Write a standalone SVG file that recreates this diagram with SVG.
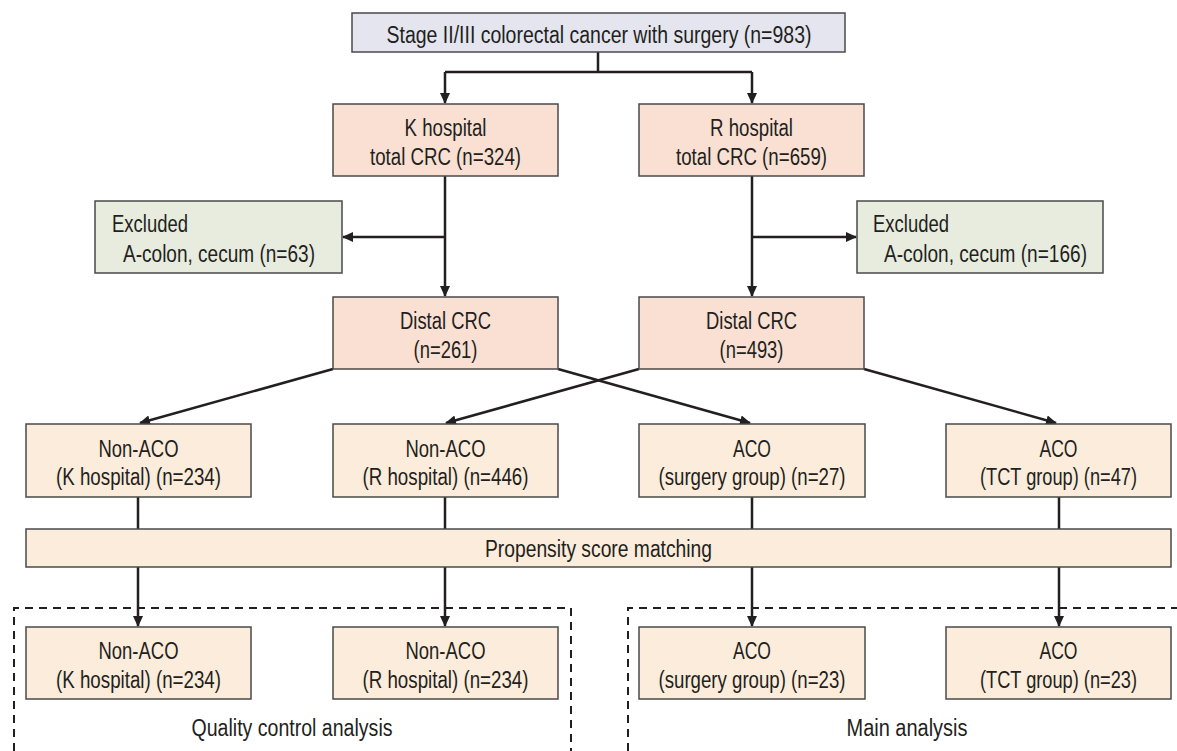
<svg xmlns="http://www.w3.org/2000/svg" width="1177" height="751" viewBox="0 0 1177 751">
<defs>
<style>
.box{stroke:#4a4a4a;stroke-width:1.5}
.top{fill:#e4e5ef}
.sal{fill:#f9e0d3}
.exc{fill:#e7ecdf}
.cre{fill:#fbecdb}
text{font-family:"Liberation Sans",Arial,sans-serif;font-size:23px;fill:#231f20}
.c{text-anchor:middle}
.ln{fill:none;stroke:#231f20;stroke-width:2.5}
.ar{marker-end:url(#ah)}
.dash{fill:none;stroke:#231f20;stroke-width:2;stroke-dasharray:8 6}
</style>
<marker id="ah" markerUnits="userSpaceOnUse" markerWidth="11" markerHeight="10" refX="10" refY="5" orient="auto" viewBox="0 0 11 10">
<path d="M0,0 L11,5 L0,10 z" fill="#231f20"/>
</marker>
</defs>
<rect width="1177" height="751" fill="#ffffff"/>

<g id="connectors">
<path class="ln" d="M598,52 V72 M445,72 H752"/>
<path class="ln ar" d="M445,72 V103"/>
<path class="ln ar" d="M752,72 V103"/>
<path class="ln ar" d="M445,176 V296"/>
<path class="ln ar" d="M445,237 H343"/>
<path class="ln ar" d="M752,176 V296"/>
<path class="ln ar" d="M752,237 H856"/>
<path class="ln ar" d="M333,369 L140,423"/>
<path class="ln ar" d="M558,369 L750,423"/>
<path class="ln ar" d="M639,369 L446,423"/>
<path class="ln ar" d="M864,369 L1056,423"/>
<path class="ln" d="M138,497 V529 M445,497 V529 M752,497 V529 M1059,497 V529"/>
<path class="ln ar" d="M138,567 V626"/>
<path class="ln ar" d="M445,567 V626"/>
<path class="ln ar" d="M752,567 V626"/>
<path class="ln ar" d="M1059,567 V626"/>
</g>

<g id="group-quality">
<path class="dash" d="M14,751 V608 H571 V751"/>
<text class="c" x="292" y="736" textLength="201" lengthAdjust="spacingAndGlyphs">Quality control analysis</text>
</g>
<g id="group-main">
<path class="dash" d="M628,751 V608 H1177"/>
<text class="c" x="907" y="736" textLength="121" lengthAdjust="spacingAndGlyphs">Main analysis</text>
</g>

<g id="n-start">
<rect class="box top" x="352" y="13" width="493" height="39"/>
<text class="c" x="599" y="43" textLength="425" lengthAdjust="spacingAndGlyphs">Stage II/III colorectal cancer with surgery (n=983)</text>
</g>

<g id="n-khosp">
<rect class="box sal" x="333" y="104" width="225" height="72"/>
<text class="c" x="445.5" y="136" textLength="82" lengthAdjust="spacingAndGlyphs">K hospital</text>
<text class="c" x="445.5" y="165" textLength="151" lengthAdjust="spacingAndGlyphs">total CRC (n=324)</text>
</g>
<g id="n-rhosp">
<rect class="box sal" x="639" y="104" width="225" height="72"/>
<text class="c" x="751.5" y="136" textLength="83" lengthAdjust="spacingAndGlyphs">R hospital</text>
<text class="c" x="751.5" y="165" textLength="151" lengthAdjust="spacingAndGlyphs">total CRC (n=659)</text>
</g>

<g id="n-exc-k">
<rect class="box exc" x="95" y="201" width="247" height="72"/>
<text x="112" y="232" textLength="76" lengthAdjust="spacingAndGlyphs">Excluded</text>
<text x="123" y="262" textLength="192" lengthAdjust="spacingAndGlyphs">A-colon, cecum (n=63)</text>
</g>
<g id="n-exc-r">
<rect class="box exc" x="857" y="201" width="246" height="72"/>
<text x="873" y="232" textLength="76" lengthAdjust="spacingAndGlyphs">Excluded</text>
<text x="884" y="262" textLength="203" lengthAdjust="spacingAndGlyphs">A-colon, cecum (n=166)</text>
</g>

<g id="n-distal-k">
<rect class="box sal" x="333" y="297" width="225" height="72"/>
<text class="c" x="445.5" y="329" textLength="91" lengthAdjust="spacingAndGlyphs">Distal CRC</text>
<text class="c" x="445.5" y="358" textLength="64" lengthAdjust="spacingAndGlyphs">(n=261)</text>
</g>
<g id="n-distal-r">
<rect class="box sal" x="639" y="297" width="225" height="72"/>
<text class="c" x="751.5" y="329" textLength="91" lengthAdjust="spacingAndGlyphs">Distal CRC</text>
<text class="c" x="751.5" y="358" textLength="64" lengthAdjust="spacingAndGlyphs">(n=493)</text>
</g>

<g id="n-nonaco-k">
<rect class="box cre" x="26" y="424" width="225" height="73"/>
<text class="c" x="138.5" y="457" textLength="80" lengthAdjust="spacingAndGlyphs">Non-ACO</text>
<text class="c" x="138.5" y="485" textLength="165" lengthAdjust="spacingAndGlyphs">(K hospital) (n=234)</text>
</g>
<g id="n-nonaco-r">
<rect class="box cre" x="333" y="424" width="225" height="73"/>
<text class="c" x="445.5" y="457" textLength="80" lengthAdjust="spacingAndGlyphs">Non-ACO</text>
<text class="c" x="445.5" y="485" textLength="166" lengthAdjust="spacingAndGlyphs">(R hospital) (n=446)</text>
</g>
<g id="n-aco-s">
<rect class="box cre" x="639" y="424" width="226" height="73"/>
<text class="c" x="752" y="457" textLength="38" lengthAdjust="spacingAndGlyphs">ACO</text>
<text class="c" x="752" y="485" textLength="187" lengthAdjust="spacingAndGlyphs">(surgery group) (n=27)</text>
</g>
<g id="n-aco-t">
<rect class="box cre" x="946" y="424" width="225" height="73"/>
<text class="c" x="1058.5" y="457" textLength="38" lengthAdjust="spacingAndGlyphs">ACO</text>
<text class="c" x="1058.5" y="485" textLength="157" lengthAdjust="spacingAndGlyphs">(TCT group) (n=47)</text>
</g>

<g id="n-psm">
<rect class="box cre" x="26" y="529" width="1145" height="38"/>
<text class="c" x="598.5" y="557" textLength="227" lengthAdjust="spacingAndGlyphs">Propensity score matching</text>
</g>

<g id="n-m-nonaco-k">
<rect class="box cre" x="26" y="627" width="225" height="72"/>
<text class="c" x="138.5" y="659" textLength="80" lengthAdjust="spacingAndGlyphs">Non-ACO</text>
<text class="c" x="138.5" y="688" textLength="165" lengthAdjust="spacingAndGlyphs">(K hospital) (n=234)</text>
</g>
<g id="n-m-nonaco-r">
<rect class="box cre" x="333" y="627" width="225" height="72"/>
<text class="c" x="445.5" y="659" textLength="80" lengthAdjust="spacingAndGlyphs">Non-ACO</text>
<text class="c" x="445.5" y="688" textLength="166" lengthAdjust="spacingAndGlyphs">(R hospital) (n=234)</text>
</g>
<g id="n-m-aco-s">
<rect class="box cre" x="639" y="627" width="226" height="72"/>
<text class="c" x="752" y="659" textLength="38" lengthAdjust="spacingAndGlyphs">ACO</text>
<text class="c" x="752" y="688" textLength="187" lengthAdjust="spacingAndGlyphs">(surgery group) (n=23)</text>
</g>
<g id="n-m-aco-t">
<rect class="box cre" x="946" y="627" width="225" height="72"/>
<text class="c" x="1058.5" y="659" textLength="38" lengthAdjust="spacingAndGlyphs">ACO</text>
<text class="c" x="1058.5" y="688" textLength="157" lengthAdjust="spacingAndGlyphs">(TCT group) (n=23)</text>
</g>
</svg>
